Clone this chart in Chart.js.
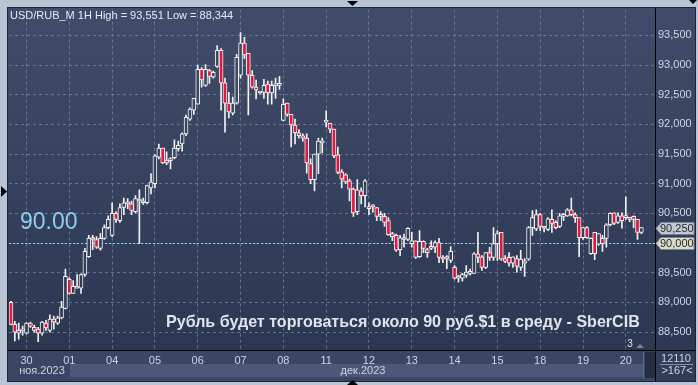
<!DOCTYPE html>
<html>
<head>
<meta charset="utf-8">
<script src="https://cdn.jsdelivr.net/npm/chart.js@4.4.0/dist/chart.umd.min.js"></script>
<style>
html, body { margin: 0; padding: 0; background: #b9c4d4; }
canvas { display: block; }
</style>
</head>
<body>
<canvas id="grafica" width="698" height="385"></canvas>
<script>
// Sesiones (días) y número de velas de 1H en cada una
const sessions = ['29', '30', '01', '04', '05', '06', '07', '08', '11', '12', '13', '14', '15', '18', '19', '20'];
const barsPerSession = [4, 11, 11, 11, 11, 11, 11, 11, 11, 11, 11, 11, 11, 11, 11, 5];
const months = ['ноя.2023', 'дек.2023'];
const yTicks = [88.5, 89, 89.5, 90, 90.5, 91, 91.5, 92, 92.5, 93, 93.5];
const refLevel = 90.0;
const lastPrice = 90.25;

const opens = [
  89.00, 88.63, 88.53, 88.52,
  88.48, 88.65, 88.58, 88.55, 88.48, 88.65, 88.53, 88.72, 88.65, 88.74, 88.90,
  89.39, 89.15, 89.27, 89.24, 89.47, 89.77, 90.09, 90.06, 89.91, 90.08, 90.26,
  90.13, 90.50, 90.38, 90.60, 90.68, 90.66, 90.53, 90.71, 90.68, 90.68, 90.93,
  91.00, 91.45, 91.60, 91.40, 91.39, 91.44, 91.59, 91.67, 91.84, 92.09, 92.24,
  92.34, 92.93, 92.66, 92.91, 92.80, 92.98, 93.25, 92.70, 92.36, 92.19, 92.36,
  92.83, 93.37, 93.20, 92.83, 92.63, 92.53, 92.54, 92.68, 92.53, 92.65, 92.66,
  92.07, 92.36, 92.17, 91.99, 91.86, 91.77, 91.77, 91.34, 91.07, 91.50, 91.69,
  92.04, 92.02, 91.92, 91.49, 91.20, 91.15, 91.05, 90.91, 90.53, 90.88, 90.80,
  90.61, 90.61, 90.60, 90.45, 90.45, 90.38, 90.16, 90.13, 89.89, 90.09, 90.06,
  89.99, 90.04, 89.77, 90.03, 89.89, 89.94, 89.93, 90.01, 89.76, 89.74, 89.71,
  89.59, 89.42, 89.41, 89.46, 89.49, 89.49, 89.82, 89.77, 89.59, 89.84, 89.76,
  89.99, 90.18, 89.74, 89.76, 89.66, 89.74, 89.59, 89.66, 89.73, 90.26, 90.24,
  90.48, 90.26, 90.23, 90.40, 90.35, 90.28, 90.45, 90.46, 90.56, 90.48, 90.43,
  90.09, 90.26, 89.82, 90.18, 89.98, 90.08, 90.08, 90.31, 90.51, 90.35, 90.46,
  90.43, 90.41, 90.45, 90.40, 90.18
];
const highs = [
  89.02, 88.68, 88.65, 88.60,
  88.66, 88.67, 88.62, 88.58, 88.68, 88.70, 88.79, 88.77, 88.77, 89.02, 89.56,
  89.42, 89.37, 89.47, 89.48, 89.91, 90.13, 90.13, 90.11, 90.16, 90.31, 90.46,
  90.68, 90.53, 90.66, 90.76, 90.75, 90.71, 90.80, 90.90, 90.76, 90.98, 91.17,
  91.49, 91.67, 91.60, 91.54, 91.44, 91.74, 91.72, 91.86, 92.16, 92.28, 92.44,
  93.00, 92.96, 93.01, 92.93, 92.90, 93.33, 93.28, 92.78, 92.54, 92.46, 93.18,
  93.55, 93.47, 93.20, 92.91, 92.75, 92.56, 92.76, 92.73, 92.73, 92.78, 92.81,
  92.43, 92.36, 92.17, 92.09, 91.91, 91.84, 91.84, 91.42, 91.50, 91.77, 91.77,
  92.23, 92.02, 91.92, 91.62, 91.24, 91.17, 91.08, 90.93, 91.07, 90.93, 91.07,
  90.68, 90.65, 90.60, 90.53, 90.50, 90.43, 90.18, 90.15, 90.13, 90.15, 90.26,
  90.18, 90.04, 90.21, 90.04, 89.91, 90.04, 90.04, 90.08, 89.79, 89.79, 89.94,
  89.62, 89.46, 89.49, 89.62, 89.56, 89.84, 90.18, 89.79, 89.84, 89.93, 90.26,
  90.21, 90.18, 89.79, 89.84, 89.77, 89.79, 89.88, 89.74, 90.28, 90.55, 90.56,
  90.50, 90.28, 90.43, 90.56, 90.38, 90.50, 90.50, 90.58, 90.76, 90.51, 90.43,
  90.26, 90.28, 90.09, 90.18, 90.16, 90.13, 90.33, 90.51, 90.51, 90.51, 90.51,
  90.78, 90.43, 90.46, 90.40, 90.26
];
const lows = [
  88.62, 88.35, 88.38, 88.45,
  88.47, 88.58, 88.50, 88.34, 88.45, 88.53, 88.50, 88.55, 88.63, 88.72, 88.89,
  89.14, 89.15, 89.24, 89.15, 89.44, 89.76, 89.89, 89.91, 89.88, 90.06, 90.24,
  90.11, 90.35, 90.35, 90.48, 90.58, 90.48, 90.51, 89.99, 90.65, 90.66, 90.83,
  90.93, 91.42, 91.34, 91.32, 91.25, 91.42, 91.55, 91.55, 91.81, 92.07, 92.17,
  92.34, 92.63, 92.64, 92.69, 92.78, 92.96, 92.24, 91.87, 92.11, 92.16, 92.34,
  92.78, 93.11, 92.16, 92.61, 92.43, 92.51, 92.44, 92.34, 92.34, 92.44, 92.59,
  92.06, 92.14, 91.62, 91.67, 91.77, 91.72, 91.18, 91.00, 90.88, 91.17, 91.52,
  91.96, 91.86, 91.44, 91.17, 90.93, 91.00, 90.71, 90.45, 90.48, 90.66, 90.61,
  90.48, 90.52, 90.38, 90.38, 90.28, 90.13, 90.04, 89.86, 89.79, 89.93, 90.04,
  89.93, 89.74, 89.76, 89.84, 89.76, 89.89, 89.84, 89.67, 89.67, 89.57, 89.67,
  89.39, 89.34, 89.36, 89.42, 89.46, 89.49, 89.67, 89.54, 89.57, 89.71, 89.71,
  89.71, 89.71, 89.67, 89.61, 89.59, 89.51, 89.54, 89.44, 89.71, 90.13, 90.21,
  90.21, 90.19, 90.21, 90.18, 90.24, 90.26, 90.38, 90.45, 90.46, 90.35, 89.77,
  90.06, 90.08, 89.81, 89.72, 89.96, 89.86, 89.93, 90.29, 90.31, 90.33, 90.25,
  90.40, 90.36, 90.26, 90.06, 90.16
];
const closes = [
  88.63, 88.50, 88.48, 88.55,
  88.65, 88.60, 88.53, 88.48, 88.67, 88.57, 88.72, 88.67, 88.74, 88.92, 89.44,
  89.15, 89.27, 89.24, 89.47, 89.86, 90.08, 90.06, 89.93, 90.08, 90.26, 90.40,
  90.50, 90.40, 90.60, 90.68, 90.66, 90.55, 90.75, 90.73, 90.71, 90.97, 91.03,
  91.47, 91.60, 91.35, 91.35, 91.42, 91.60, 91.65, 91.84, 92.12, 92.26, 92.44,
  92.93, 92.75, 92.93, 92.81, 92.88, 93.25, 92.70, 92.36, 92.21, 92.36, 93.13,
  93.37, 93.17, 92.83, 92.63, 92.58, 92.56, 92.66, 92.53, 92.66, 92.66, 92.67,
  92.34, 92.17, 91.99, 91.86, 91.81, 91.81, 91.35, 91.07, 91.50, 91.72, 91.72,
  92.06, 91.92, 91.47, 91.19, 91.08, 91.03, 90.91, 90.51, 90.90, 90.80, 91.05,
  90.58, 90.63, 90.45, 90.46, 90.35, 90.14, 90.11, 89.88, 90.09, 90.06, 90.25,
  90.04, 89.76, 90.03, 89.91, 89.84, 89.91, 90.01, 89.76, 89.73, 89.75, 89.86,
  89.41, 89.41, 89.47, 89.51, 89.52, 89.82, 89.76, 89.59, 89.84, 89.76, 89.99,
  90.16, 89.73, 89.69, 89.66, 89.77, 89.61, 89.73, 89.70, 90.26, 90.43, 90.48,
  90.28, 90.25, 90.41, 90.33, 90.26, 90.46, 90.48, 90.56, 90.48, 90.43, 90.09,
  90.26, 90.09, 90.08, 89.82, 90.16, 89.99, 90.31, 90.50, 90.33, 90.46, 90.38,
  90.45, 90.40, 90.40, 90.18, 90.26
];

// Etiquetas del eje X: el número del día en la primera vela de cada sesión
const labels = [];
sessions.forEach((s, k) => {
  for (let j = 0; j < barsPerSession[k]; j++) labels.push(j === 0 && k > 0 ? s : '');
});
for (let j = 0; j < 3; j++) labels.push('');

const RED = '#e3173e';
const GRID = 'rgba(118,132,162,0.75)';
const TXT = '#ccd5e4';
const SMALL = '11px "Liberation Sans Narrow", "Liberation Sans", Arial, sans-serif';

function plotFill(chart) {
  const a = chart.chartArea;
  const g = chart.ctx.createLinearGradient(0, a.top, 0, a.bottom);
  g.addColorStop(0, '#404c69');
  g.addColorStop(1, '#2c3752');
  return g;
}

function tag(ctx, y, text, fill) {
  ctx.beginPath();
  ctx.moveTo(656, y);
  ctx.lineTo(661, y - 6);
  ctx.lineTo(694, y - 6);
  ctx.lineTo(694, y + 6);
  ctx.lineTo(661, y + 6);
  ctx.closePath();
  ctx.fillStyle = fill;
  ctx.fill();
  ctx.strokeStyle = '#7d8594';
  ctx.lineWidth = 1;
  ctx.stroke();
  ctx.fillStyle = '#1f2533';
  ctx.font = SMALL;
  ctx.textBaseline = 'middle';
  ctx.textAlign = 'left';
  ctx.fillText(text, 660, y + 0.5);
}

function tri(ctx, pts) {
  ctx.beginPath();
  ctx.moveTo(pts[0], pts[1]);
  ctx.lineTo(pts[2], pts[3]);
  ctx.lineTo(pts[4], pts[5]);
  ctx.closePath();
  ctx.fill();
}

const decor = {
  id: 'decor',
  beforeDraw(chart) {
    const ctx = chart.ctx;
    const a = chart.chartArea;
    ctx.save();
    ctx.fillStyle = '#b9c4d4';
    ctx.fillRect(0, 0, 698, 385);
    ctx.fillStyle = '#1e2536';
    ctx.fillRect(7, 7, 689, 375);
    ctx.fillStyle = plotFill(chart);
    ctx.fillRect(8, 8, 687, a.bottom - 8);
    // fila del eje X
    ctx.fillStyle = '#3b4664';
    ctx.fillRect(8, a.bottom, 687, 381 - a.bottom);
    ctx.fillStyle = '#4b5877';
    ctx.fillRect(70, 364, 573, 13);
    ctx.fillStyle = '#5d6a88';
    ctx.fillRect(643, 352, 1, 26);
    ctx.fillStyle = '#252d41';
    ctx.fillRect(645, 352, 10, 26);
    ctx.fillStyle = '#313c57';
    ctx.fillRect(656, a.bottom + 1, 39, 381 - a.bottom - 1);
    ctx.restore();
  },
  beforeDatasetsDraw(chart) {
    const ctx = chart.ctx;
    const a = chart.chartArea;
    const y = Math.round(chart.scales.y.getPixelForValue(refLevel)) + 0.5;
    ctx.save();
    ctx.strokeStyle = '#86cde6';
    ctx.lineWidth = 1;
    ctx.setLineDash([2, 2]);
    ctx.beginPath();
    ctx.moveTo(a.left, y);
    ctx.lineTo(a.right, y);
    ctx.stroke();
    ctx.restore();
  },
  afterDraw(chart) {
    const ctx = chart.ctx;
    const a = chart.chartArea;
    const ys = chart.scales.y;
    ctx.save();
    // bordes negros
    ctx.fillStyle = '#000000';
    ctx.fillRect(a.right, 8, 1, 373);
    ctx.fillRect(8, a.bottom, 687, 1);

    // textos
    ctx.textAlign = 'left';
    ctx.textBaseline = 'alphabetic';
    ctx.fillStyle = '#e6eaf2';
    ctx.font = SMALL;
    ctx.fillText('USD/RUB_M 1H High = 93,551 Low = 88,344', 10, 19);

    ctx.fillStyle = '#8dcdec';
    ctx.font = '23px "Liberation Sans", Arial, sans-serif';
    ctx.fillText(refLevel.toFixed(2), 20, 228.5);

    const caption = 'Рубль будет торговаться около 90 руб.$1 в среду - SberCIB';
    ctx.font = 'bold 16px "Liberation Sans", Arial, sans-serif';
    const fs = 16 * 474 / ctx.measureText(caption).width;
    ctx.font = 'bold ' + fs.toFixed(2) + 'px "Liberation Sans", Arial, sans-serif';
    ctx.fillStyle = '#dfe3eb';
    ctx.fillText(caption, 166, 327);

    // meses
    ctx.font = SMALL;
    ctx.fillStyle = TXT;
    ctx.textBaseline = 'middle';
    ctx.textAlign = 'center';
    ctx.fillText(months[0], 42, 370.5);
    ctx.fillText(months[1], 363, 370.5);

    // panel inferior derecho
    ctx.fillText('12110', 676, 358.5);
    ctx.fillText('>167<', 677, 370.5);
    ctx.fillStyle = '#8793aa';
    ctx.fillRect(660, 364, 33, 1);
    ctx.fillStyle = '#e0e4ec';
    ctx.font = '10px "Liberation Sans", Arial, sans-serif';
    ctx.fillText('3', 630, 344);
    ctx.fillStyle = '#7c879c';
    tri(ctx, [636, 348, 644, 348, 640, 344]);

    // etiquetas de precio
    tag(ctx, Math.round(ys.getPixelForValue(lastPrice)) + 0.5, '90,250', '#c2c7d0');
    tag(ctx, Math.round(ys.getPixelForValue(refLevel)) + 0.5, '90,000', '#dadcc6');

    // flechas negras del marco
    ctx.fillStyle = '#000000';
    tri(ctx, [347, 1, 358, 1, 352.5, 6]);
    tri(ctx, [1, 186, 1, 197, 7, 191.5]);
    tri(ctx, [347, 385, 358, 385, 352.5, 380]);
    tri(ctx, [689, 0, 697, 0, 693, 4]);
    ctx.restore();
  }
};

const graph = document.querySelector('#grafica');

const data = {
  labels: labels,
  datasets: [
    {
      label: 'body',
      data: opens.map((o, i) => [o, closes[i]]),
      barThickness: 4,
      minBarLength: 2,
      borderWidth: 1,
      borderSkipped: false,
      borderColor: '#f2f2f2',
      backgroundColor: ctx => {
        const i = ctx.dataIndex;
        if (i === undefined || closes[i] < opens[i]) return RED;
        return plotFill(ctx.chart);
      },
      grouped: false
    },
    {
      label: 'wick',
      data: lows.map((l, i) => [l, highs[i]]),
      barThickness: 1,
      borderWidth: 0,
      backgroundColor: '#f2f2f2',
      grouped: false
    }
  ]
};

const config = {
  type: 'bar',
  data: data,
  plugins: [decor],
  options: {
    responsive: false,
    animation: false,
    devicePixelRatio: 1,
    layout: { padding: { left: 9, top: 8, right: 3, bottom: 4 } },
    plugins: { legend: { display: false }, tooltip: { enabled: false } },
    scales: {
      x: {
        type: 'category',
        offset: true,
        afterFit: s => { s.height = 31; },
        grid: {
          offset: false,
          drawTicks: false,
          color: ctx => (labels[ctx.index] ? GRID : 'transparent')
        },
        border: { display: false, dash: [3, 3] },
        ticks: {
          autoSkip: false,
          maxRotation: 0,
          padding: 4,
          color: TXT,
          font: { family: '"Liberation Sans Narrow", "Liberation Sans", Arial', size: 11 },
          callback: (v, i) => labels[i]
        }
      },
      y: {
        position: 'right',
        min: 88.198,
        max: 93.936,
        afterFit: s => { s.width = 40; },
        afterBuildTicks: s => { s.ticks = yTicks.map(v => ({ value: v })); },
        grid: { drawTicks: false, color: GRID },
        border: { display: false, dash: [3, 3] },
        ticks: {
          padding: 3,
          color: TXT,
          font: { family: '"Liberation Sans Narrow", "Liberation Sans", Arial', size: 11 },
          callback: v => v.toFixed(3).replace('.', ',')
        }
      }
    }
  }
};

new Chart(graph, config);
</script>
</body>
</html>
